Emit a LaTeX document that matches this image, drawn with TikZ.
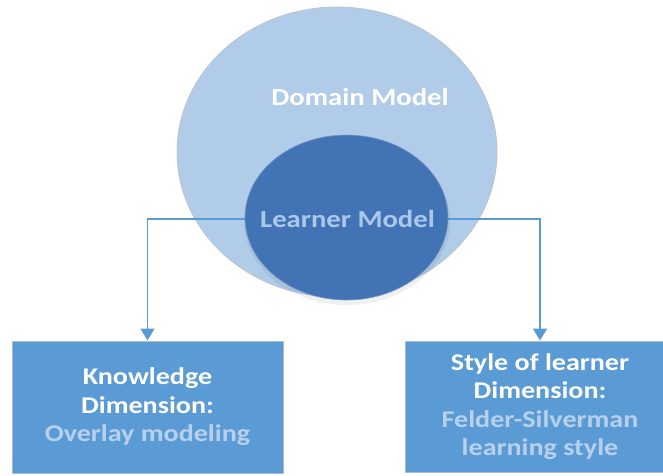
\documentclass[tikz,border=0pt]{standalone}
\usepackage{fontspec}
\newfontfamily\diagfont[FakeStretch=1.17]{Carlito}
\usetikzlibrary{arrows.meta,shapes.geometric}
\definecolor{outerfill}{RGB}{176,204,232}
\definecolor{outerline}{RGB}{190,196,204}
\definecolor{innerfill}{RGB}{66,115,180}
\definecolor{innerline}{RGB}{120,150,200}
\definecolor{boxfill}{RGB}{91,155,213}
\definecolor{boxline}{RGB}{170,190,210}
\definecolor{lighttext}{RGB}{184,208,236}
\definecolor{learnertext}{RGB}{170,200,236}
\definecolor{conn}{RGB}{91,155,213}
\tikzset{
  dimbox/.style={draw=boxline, line width=1pt, fill=boxfill, rectangle,
    inner sep=0pt, text=white, align=center,
    font=\diagfont\bfseries\fontsize{24}{28.5}\selectfont},
  modeltext/.style={font=\diagfont\bfseries\fontsize{24.5}{28}\selectfont, inner sep=0pt, anchor=base},
  connector/.style={draw=conn, line width=1.5pt, -{Triangle[width=14pt,length=12pt]}}
}
\begin{document}
\begin{tikzpicture}[x=1pt,y=-1pt]
\useasboundingbox (0,0) rectangle (663,475);
% outer ellipse
\node[ellipse, draw=outerline, line width=0.8pt, fill=outerfill,
  minimum width=320pt, minimum height=290pt, inner sep=0pt] (domain) at (337,152) {};
% boxes
\node[dimbox, minimum width=271pt, minimum height=132pt] (kbox) at (147.5,407)
  {Knowledge\\Dimension:\\\textcolor{lighttext}{Overlay modeling}};
\node[dimbox, minimum width=270pt, minimum height=131pt] (sbox) at (540,406.5)
  {Style of learner\\Dimension:\\\textcolor{lighttext}{Felder-Silverman}\\\textcolor{lighttext}{learning style}};
% connectors
\coordinate (lmc) at (346,219);
\draw[connector] (lmc) -| (kbox.north);
\draw[connector] (lmc) -| (sbox.north);
% inner ellipse shadow and body
\fill[black, opacity=0.06] (347,221) ellipse (103pt and 84pt);
\node[ellipse, draw=innerline, line width=0.6pt, fill=innerfill,
  minimum width=203pt, minimum height=165pt, inner sep=0pt] (learner) at (346.5,217.5) {};
% labels
\node[modeltext, text=white] (domlabel) at (360,105) {Domain Model};
\node[modeltext, text=learnertext] (lmlabel) at (347.5,227) {Learner Model};
\end{tikzpicture}
\end{document}
